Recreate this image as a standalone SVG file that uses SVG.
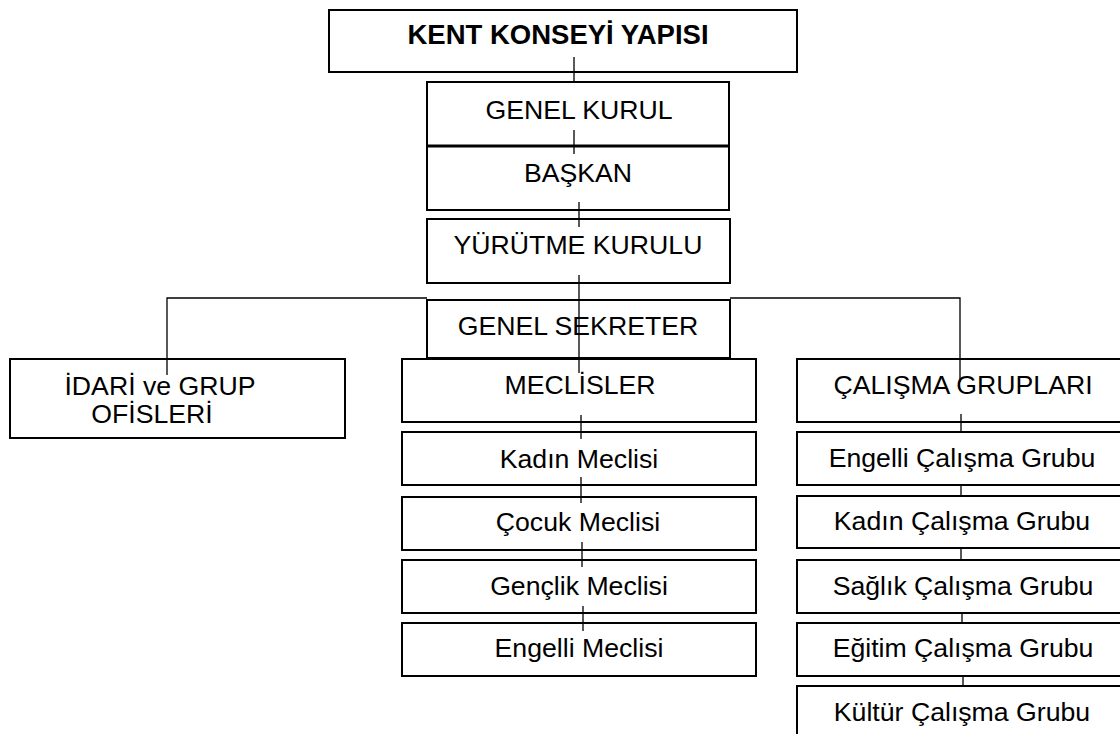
<svg xmlns="http://www.w3.org/2000/svg" width="1120" height="734" viewBox="0 0 1120 734">
  <style>
    .box { fill: #ffffff; stroke: #000000; stroke-width: 2; }
    .t { font-family: "Liberation Sans", Arial, sans-serif; font-size: 26.67px; fill: #000000; text-anchor: middle; }
    .tb { font-family: "Liberation Sans", Arial, sans-serif; font-size: 27.5px; font-weight: bold; fill: #000000; text-anchor: middle; }
    .c { fill: none; stroke: #000000; stroke-width: 1.3; }
  </style>
  <rect x="0" y="0" width="1120" height="734" fill="#ffffff"/>

  <g id="n-kent"><rect class="box" x="329" y="10" width="468" height="62"/><text class="tb" x="558" y="44">KENT KONSEYİ YAPISI</text></g>
  <g id="n-genel-kurul"><rect class="box" x="427" y="82" width="302" height="64"/><text class="t" x="579" y="119">GENEL KURUL</text></g>
  <g id="n-baskan"><rect class="box" x="427" y="146" width="302" height="64"/><line x1="426" y1="146" x2="730" y2="146" stroke="#000000" stroke-width="3"/><text class="t" x="578" y="182">BAŞKAN</text></g>
  <g id="n-yurutme"><rect class="box" x="427" y="219" width="303" height="64"/><text class="t" x="578" y="254">YÜRÜTME KURULU</text></g>
  <g id="n-sekreter"><rect class="box" x="427" y="300" width="303" height="58"/><text class="t" x="578" y="335">GENEL SEKRETER</text></g>
  <g id="n-idari"><rect class="box" x="10" y="359" width="335" height="79"/><text class="t" x="160" y="395">İDARİ ve GRUP</text><text class="t" x="152" y="423">OFİSLERİ</text></g>

  <g id="n-meclisler"><rect class="box" x="402" y="359" width="354" height="63"/><text class="t" x="580" y="394">MECLİSLER</text></g>
  <g id="n-kadin-m"><rect class="box" x="402" y="432" width="354" height="53"/><text class="t" x="579" y="468">Kadın Meclisi</text></g>
  <g id="n-cocuk-m"><rect class="box" x="402" y="497" width="354" height="53"/><text class="t" x="578" y="531">Çocuk Meclisi</text></g>
  <g id="n-genclik-m"><rect class="box" x="402" y="560" width="354" height="53"/><text class="t" x="579" y="595">Gençlik Meclisi</text></g>
  <g id="n-engelli-m"><rect class="box" x="402" y="623" width="354" height="53"/><text class="t" x="579" y="657">Engelli Meclisi</text></g>

  <g id="n-calisma"><rect class="box" x="797" y="359" width="340" height="63"/><text class="t" x="963" y="394">ÇALIŞMA GRUPLARI</text></g>
  <g id="n-engelli-g"><rect class="box" x="797" y="432" width="340" height="53"/><text class="t" x="962" y="467">Engelli Çalışma Grubu</text></g>
  <g id="n-kadin-g"><rect class="box" x="797" y="496" width="340" height="52"/><text class="t" x="962" y="530">Kadın Çalışma Grubu</text></g>
  <g id="n-saglik-g"><rect class="box" x="797" y="560" width="340" height="53"/><text class="t" x="963" y="595">Sağlık Çalışma Grubu</text></g>
  <g id="n-egitim-g"><rect class="box" x="797" y="623" width="340" height="53"/><text class="t" x="963" y="657">Eğitim Çalışma Grubu</text></g>
  <g id="n-kultur-g"><rect class="box" x="797" y="686" width="340" height="60"/><text class="t" x="962" y="721">Kültür Çalışma Grubu</text></g>

  <g id="connectors">
    <line class="c" x1="574" y1="57" x2="574" y2="81"/>
    <line class="c" x1="574" y1="130" x2="574" y2="154"/>
    <line class="c" x1="579" y1="202" x2="579" y2="227"/>
    <line class="c" x1="579" y1="275" x2="579" y2="373"/>
    <line class="c" x1="581" y1="415" x2="581" y2="439"/>
    <line class="c" x1="581" y1="477" x2="581" y2="503"/>
    <line class="c" x1="582" y1="542" x2="582" y2="567"/>
    <line class="c" x1="583" y1="606" x2="583" y2="631"/>
    <polyline class="c" points="427,298 167,298 167,375"/>
    <polyline class="c" points="730,298 960,298 960,382"/>
    <line class="c" x1="961" y1="414" x2="961" y2="432"/>
    <line class="c" x1="961" y1="485" x2="961" y2="496"/>
    <line class="c" x1="961" y1="548" x2="961" y2="560"/>
    <line class="c" x1="962" y1="613" x2="962" y2="623"/>
    <line class="c" x1="963" y1="676" x2="963" y2="686"/>
  </g>
</svg>
